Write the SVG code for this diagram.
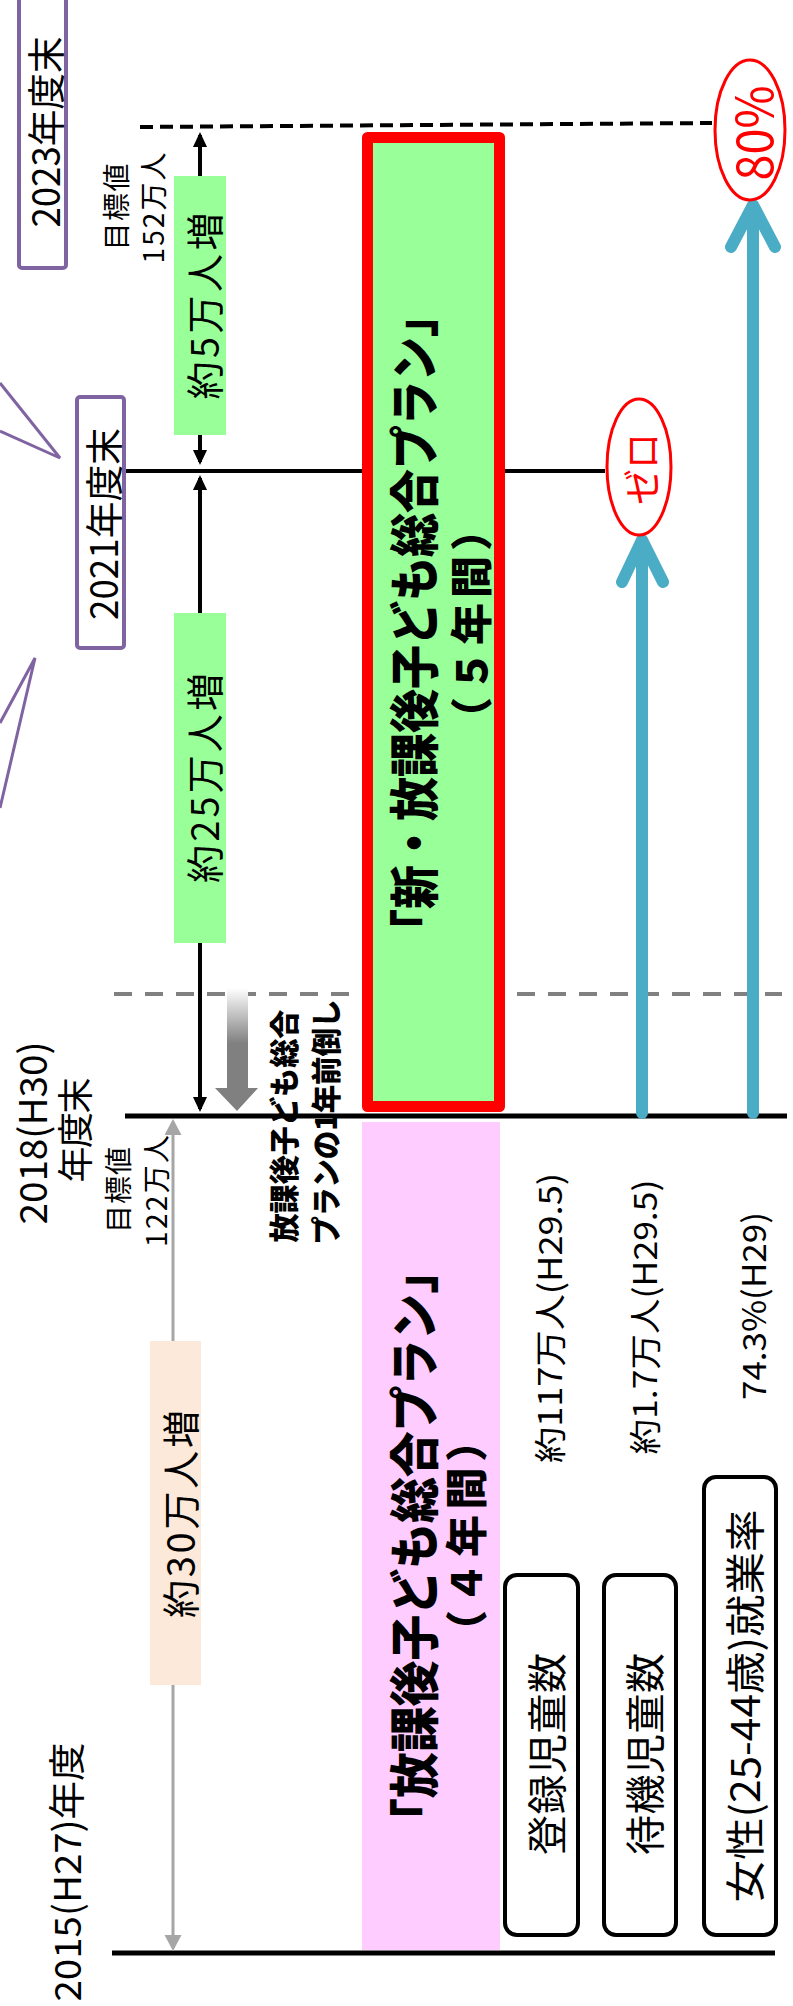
<svg xmlns="http://www.w3.org/2000/svg" width="793" height="2006" viewBox="0 0 793 2006">
<style>
text{font-family:"Noto Sans CJK JP","Noto Sans",sans-serif;fill:#000;text-anchor:middle;dominant-baseline:central}
.b{font-weight:900}
.red{fill:#FF0000}
.dim{stroke:#000;stroke-width:4;fill:none}
.dimg{stroke:#A6A6A6;stroke-width:3;fill:none}
.lbl{fill:#fff;stroke:#000;stroke-width:4}
.yr{fill:#fff;stroke:#8064A2;stroke-width:4}
.call{fill:none;stroke:#8064A2;stroke-width:3}
.blue{fill:none;stroke:#4BACC6;stroke-width:12;stroke-linecap:round;stroke-linejoin:round}
</style>
<defs>
<marker id="ah" markerUnits="userSpaceOnUse" markerWidth="16" markerHeight="16" viewBox="0 0 16 16" refX="12" refY="7" orient="auto-start-reverse"><path d="M0,0 L15,7 L0,14 z" fill="#000"/></marker>
<marker id="ahg" markerUnits="userSpaceOnUse" markerWidth="18" markerHeight="18" viewBox="0 0 18 18" refX="13" refY="8.5" orient="auto-start-reverse"><path d="M0,0 L16,8.5 L0,17 z" fill="#A6A6A6"/></marker>
<linearGradient id="gg" x1="0" y1="0" x2="0" y2="1"><stop offset="0" stop-color="#FFFFFF"/><stop offset="0.45" stop-color="#808080"/><stop offset="1" stop-color="#808080"/></linearGradient>
</defs>

<g id="connectors">
<line x1="140" y1="127" x2="712" y2="123" stroke="#000" stroke-width="4" stroke-dasharray="13 7"/>
<line x1="114" y1="994" x2="782" y2="994" stroke="#808080" stroke-width="4" stroke-dasharray="18 13"/>
<line x1="124" y1="471" x2="605" y2="471" stroke="#000" stroke-width="4"/>
<line x1="125" y1="1116" x2="787" y2="1116" stroke="#000" stroke-width="5"/>
<line x1="112" y1="1953" x2="775" y2="1953" stroke="#000" stroke-width="5"/>
<line class="dim" x1="200" y1="135" x2="200" y2="462" marker-start="url(#ah)" marker-end="url(#ah)"/>
<line class="dim" x1="200" y1="478" x2="200" y2="1109" marker-start="url(#ah)" marker-end="url(#ah)"/>
<line class="dimg" x1="173" y1="1122" x2="173" y2="1948" marker-start="url(#ahg)" marker-end="url(#ahg)"/>
<polyline class="call" points="0,383 60,458 0,431"/>
<polyline class="call" points="0,723 35,658 0,808"/>
<path class="blue" d="M642,1113 L642,540 M622,582 L642,540 L663,582"/>
<path class="blue" d="M753,1113 L753,205 M731,247 L753,205 L775,247"/>
<path d="M227,988 L248,988 L248,1088 L258,1088 L237,1111 L215,1088 L227,1088 z" fill="url(#gg)"/>
</g>

<g id="y2023"><rect class="yr" x="19" y="-6" width="47" height="274" rx="3"/>
<text transform="translate(43,132) rotate(-90)" font-size="38" textLength="191" lengthAdjust="spacingAndGlyphs">2023年度末</text></g>

<g id="target152">
<text transform="translate(115,207) rotate(-90)" font-size="28" textLength="87" lengthAdjust="spacing">目標値</text>
<text transform="translate(152,208) rotate(-90)" font-size="28" textLength="111" lengthAdjust="spacing">152万人</text></g>

<g id="inc5"><rect x="174" y="176" width="52" height="259" fill="#99FF99"/>
<text transform="translate(202,306) rotate(-90)" font-size="38" textLength="187" lengthAdjust="spacing">約5万人増</text></g>

<g id="y2021"><rect class="yr" x="77" y="397" width="47" height="251" rx="3"/>
<text transform="translate(101,524) rotate(-90)" font-size="38" textLength="192" lengthAdjust="spacingAndGlyphs">2021年度末</text></g>

<g id="inc25"><rect x="174" y="613" width="52" height="330" fill="#99FF99"/>
<text transform="translate(202,778) rotate(-90)" font-size="38" textLength="210" lengthAdjust="spacing">約25万人増</text></g>

<g id="y2018">
<text transform="translate(30,1133) rotate(-90)" font-size="38" textLength="183" lengthAdjust="spacingAndGlyphs">2018(H30)</text>
<text transform="translate(73,1130) rotate(-90)" font-size="36" textLength="105" lengthAdjust="spacing">年度末</text></g>

<g id="target122">
<text transform="translate(117,1190) rotate(-90)" font-size="28" textLength="86" lengthAdjust="spacing">目標値</text>
<text transform="translate(155,1191) rotate(-90)" font-size="28" textLength="112" lengthAdjust="spacing">122万人</text></g>

<g id="advance">
<text class="b" transform="translate(282,1126) rotate(-90)" font-size="30" textLength="233" lengthAdjust="spacingAndGlyphs">放課後子ども総合</text>
<text class="b" transform="translate(324,1122) rotate(-90)" font-size="30" textLength="245" lengthAdjust="spacingAndGlyphs">プランの1年前倒し</text></g>

<g id="inc30"><rect x="150" y="1341" width="51" height="344" fill="#FDE9D9"/>
<text transform="translate(178,1514) rotate(-90)" font-size="38" textLength="208" lengthAdjust="spacing">約30万人増</text></g>

<g id="y2015">
<text transform="translate(65,1872) rotate(-90)" font-size="37" textLength="259" lengthAdjust="spacingAndGlyphs">2015(H27)年度</text></g>

<g id="oldplan"><rect x="362" y="1122" width="138" height="828" fill="#FFCCFF"/>
<text class="b" transform="translate(411,1546) rotate(-90)" font-size="50" textLength="596" lengthAdjust="spacingAndGlyphs">「放課後子ども総合プラン」</text>
<text class="b" transform="translate(463,1536) rotate(-90)" font-size="42" textLength="232" lengthAdjust="spacing">（４年間）</text></g>

<g id="newplan"><rect x="367.5" y="137.5" width="132" height="969" fill="#99FF99" stroke="#FF0000" stroke-width="11" stroke-linejoin="round"/>
<text class="b" transform="translate(411,623) rotate(-90)" font-size="50" textLength="660" lengthAdjust="spacingAndGlyphs">「新・放課後子ども総合プラン」</text>
<text class="b" transform="translate(468,624) rotate(-90)" font-size="42" textLength="230" lengthAdjust="spacing">（５年間）</text></g>

<g id="zero"><ellipse cx="639" cy="467" rx="32" ry="68" fill="#fff" stroke="#FF0000" stroke-width="3"/>
<text class="red" transform="translate(639,469) rotate(-90)" font-size="38" textLength="72" lengthAdjust="spacingAndGlyphs">ゼロ</text></g>

<g id="p80"><ellipse cx="750" cy="130" rx="35" ry="70" fill="#fff" stroke="#FF0000" stroke-width="3"/>
<text class="red" transform="translate(751,133) rotate(-90)" font-size="50" textLength="95" lengthAdjust="spacingAndGlyphs">80%</text></g>

<g id="val1"><text transform="translate(548,1318) rotate(-90)" font-size="32" textLength="290" lengthAdjust="spacingAndGlyphs">約117万人(H29.5)</text></g>
<g id="val2"><text transform="translate(643,1317) rotate(-90)" font-size="32" textLength="275" lengthAdjust="spacingAndGlyphs">約1.7万人(H29.5)</text></g>
<g id="val3"><text transform="translate(752,1306) rotate(-90)" font-size="32" textLength="188" lengthAdjust="spacingAndGlyphs">74.3%(H29)</text></g>

<g id="lbl1"><rect class="lbl" x="505" y="1575" width="73" height="360" rx="12"/>
<text transform="translate(545,1754) rotate(-90)" font-size="40" textLength="202" lengthAdjust="spacing">登録児童数</text></g>
<g id="lbl2"><rect class="lbl" x="604" y="1575" width="72" height="360" rx="12"/>
<text transform="translate(643,1754) rotate(-90)" font-size="40" textLength="202" lengthAdjust="spacing">待機児童数</text></g>
<g id="lbl3"><rect class="lbl" x="704" y="1477" width="72" height="458" rx="12"/>
<text transform="translate(743,1706) rotate(-90)" font-size="40" textLength="393" lengthAdjust="spacingAndGlyphs">女性(25-44歳)就業率</text></g>
</svg>
